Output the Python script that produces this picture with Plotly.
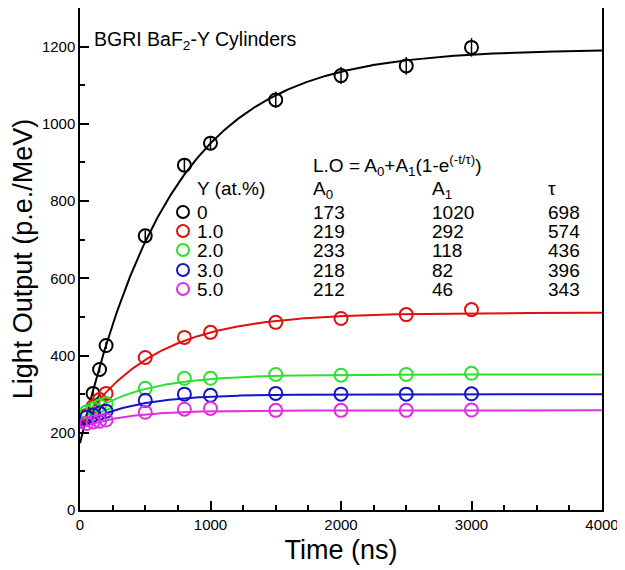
import numpy as np
import plotly.graph_objects as go

# ---------------- data ----------------
times = [50, 100, 150, 200, 500, 800, 1000, 1500, 2000, 2500, 3000]
y_labels = ["0", "1.0", "2.0", "3.0", "5.0"]
colors = ["#000000", "#e01010", "#2ee02e", "#1414c8", "#e02ee0"]

lo_y0 = [243, 302, 364, 426, 710, 893, 950, 1062, 1125, 1150, 1198]
lo_y1 = [245, 268, 286, 302, 395, 447, 460, 486, 496, 506, 519]
lo_y2 = [254, 262, 270, 276, 315, 341, 341, 351, 349, 351, 354]
lo_y3 = [240, 246, 251, 256, 284, 300, 297, 302, 300, 300, 301]
lo_y5 = [224, 228, 230, 233, 253, 261, 263, 258, 258, 258, 259]
err_y0 = [6, 7, 8, 9, 14, 18, 19, 21, 22, 23, 24]

series = [lo_y0, lo_y1, lo_y2, lo_y3, lo_y5]

# fit parameters L.O = A0 + A1 (1 - exp(-t/tau))
fit_A0 = [173, 219, 233, 218, 212]
fit_A1 = [1020, 292, 118, 82, 46]
fit_tau = [698, 574, 436, 396, 343]

FONT = "Arial, Liberation Sans, Helvetica, sans-serif"

fig = go.Figure()

t_fit = np.linspace(0, 4000, 801)
for i in range(len(series)):
    yfit = fit_A0[i] + fit_A1[i] * (1 - np.exp(-t_fit / fit_tau[i]))
    fig.add_trace(go.Scatter(x=t_fit, y=yfit, mode="lines",
                             line=dict(color=colors[i], width=2),
                             showlegend=False, hoverinfo="skip"))

for i in range(len(series)):
    kw = {}
    if i == 0:
        kw["error_y"] = dict(type="data", array=err_y0, color=colors[i],
                             thickness=1.5, width=0)
    fig.add_trace(go.Scatter(x=times, y=series[i], mode="markers",
                             marker=dict(symbol="circle-open", size=13,
                                         color=colors[i],
                                         line=dict(width=2, color=colors[i])),
                             name=y_labels[i], showlegend=False, **kw))

# ---------------- layout helpers ----------------
# page offset (browser default body margin) compensated in margins
OFF = 8
L, R, T, B = 80 - OFF, 602 - OFF, 7 - OFF + 1, 510 - OFF
W, H = 625, 570


def px(x):
    return (x - OFF - L) / (R - L)


def py(y):
    return (B - (y - OFF)) / (B - T)


annotations = []


def txt(x, y, s, size=19):
    annotations.append(dict(x=px(x), y=py(y), xref="paper", yref="paper",
                            text=s, showarrow=False, xanchor="left",
                            yanchor="middle",
                            font=dict(family=FONT, size=size, color="black")))


txt(92, 40, "BGRI BaF<sub>2</sub>-Y Cylinders", 19.5)
txt(311, 165, "L.O = A<sub>0</sub>+A<sub>1</sub>(1-e<sup>(-t/τ)</sup>)", 19)
txt(195, 188, "Y (at.%)", 19)
txt(311, 190, "A<sub>0</sub>", 19)
txt(430, 190, "A<sub>1</sub>", 19)
txt(546, 188, "τ", 19)

row_y = [212, 231, 250, 270, 289]
shapes = []
for i in range(len(y_labels)):
    txt(195, row_y[i], y_labels[i], 19)
    txt(311, row_y[i], str(fit_A0[i]), 19)
    txt(430, row_y[i], str(fit_A1[i]), 19)
    txt(546, row_y[i], str(fit_tau[i]), 19)
    shapes.append(dict(type="circle", xref="paper", yref="paper",
                       xsizemode="pixel", ysizemode="pixel",
                       xanchor=px(183), yanchor=py(row_y[i]),
                       x0=-6, x1=6, y0=-6, y1=6,
                       line=dict(color=colors[i], width=2)))

fig.update_layout(
    width=W, height=H,
    margin=dict(l=L, r=W - R, t=T, b=H - B, autoexpand=False),
    paper_bgcolor="white", plot_bgcolor="white",
    font=dict(family=FONT, color="black"),
    annotations=annotations,
    shapes=shapes,
    showlegend=False,
)

fig.update_xaxes(range=[0, 4000], dtick=1000, tick0=0, automargin=False,
                 ticks="inside", ticklen=9, tickwidth=1.5, tickcolor="black",
                 minor=dict(dtick=250, ticks="inside", ticklen=5,
                            tickwidth=1.5, tickcolor="black"),
                 showline=True, linewidth=1.5, linecolor="black", mirror=True,
                 showgrid=False, zeroline=False,
                 tickfont=dict(family=FONT, size=15, color="black"),
                 title=dict(text="Time (ns)", standoff=8,
                            font=dict(family=FONT, size=27, color="black")))
fig.update_yaxes(range=[0, 1300], dtick=200, tick0=0, automargin=False,
                 ticks="inside", ticklen=9, tickwidth=1.5, tickcolor="black",
                 minor=dict(dtick=100, ticks="inside", ticklen=5,
                            tickwidth=1.5, tickcolor="black"),
                 showline=True, linewidth=1.5, linecolor="black", mirror=True,
                 showgrid=False, zeroline=False,
                 tickfont=dict(family=FONT, size=15, color="black"),
                 title=dict(text="Light Output (p.e./MeV)", standoff=6,
                            font=dict(family=FONT, size=27, color="black")))

fig.write_html("out.html")
